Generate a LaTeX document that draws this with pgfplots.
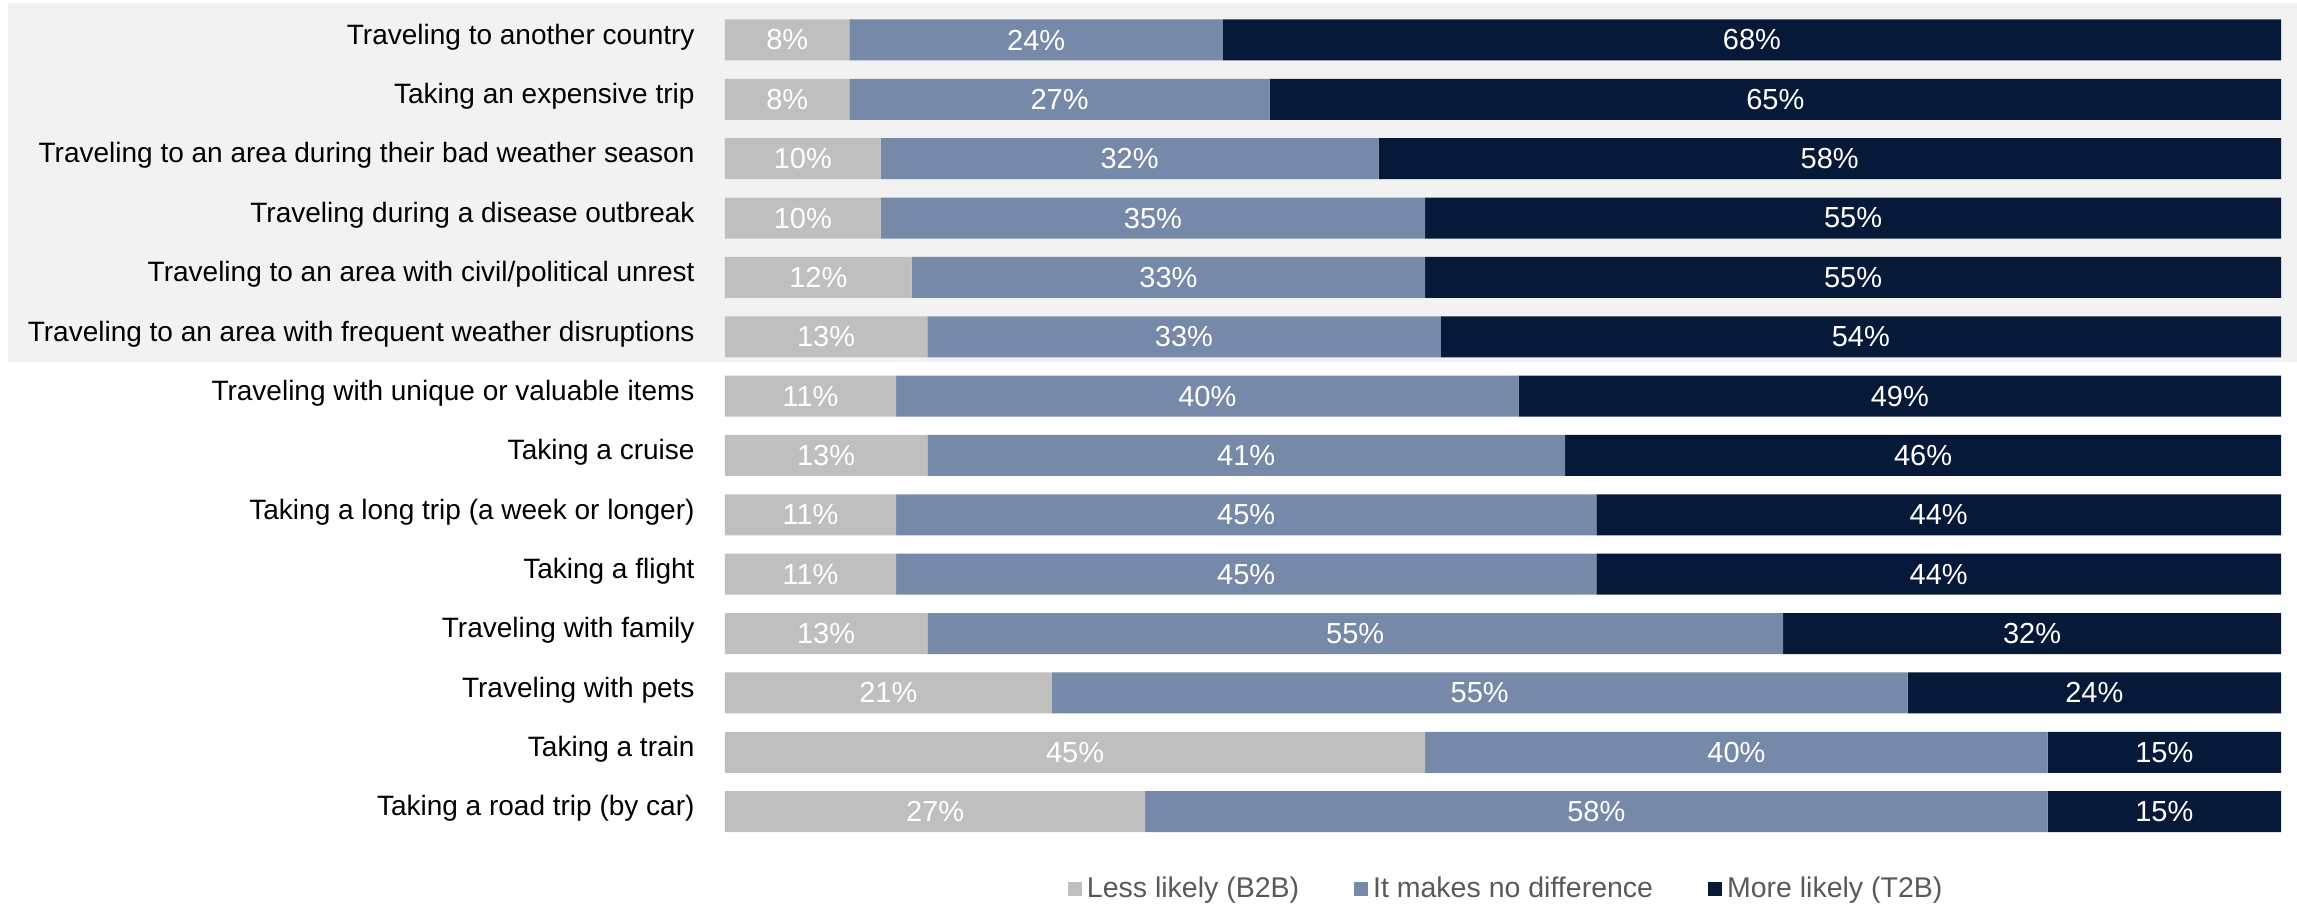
\documentclass[border=0pt]{standalone}
\usepackage{pgfplots}
\pgfplotsset{compat=1.18}
\usepackage{pgfplotstable}
\usepackage{fontspec}
\setmainfont{Liberation Sans}
\definecolor{cLess}{HTML}{BFBFBF}
\definecolor{cNo}{HTML}{7789A8}
\definecolor{cMore}{HTML}{061939}
\definecolor{cBg}{HTML}{F2F2F2}
\definecolor{cLeg}{HTML}{595959}
\pgfplotstableread{
idx less nodiff more
0 8 24 68
1 8 27 65
2 10 32 58
3 10 35 55
4 12 33 55
5 13 33 54
6 11 40 49
7 13 41 46
8 11 45 44
9 11 45 44
10 13 55 32
11 21 55 24
12 45 40 15
13 27 58 15
}\datatable
\begin{document}
\begin{tikzpicture}
\useasboundingbox (0pt,0pt) rectangle (918.8pt,-362pt);
\fill[cBg] (3.2pt,-1.2pt) rectangle (918.8pt,-144.8pt);
\begin{axis}[
  at={(290pt,-4.12pt)}, anchor=north west,
  scale only axis, width=622.4pt, height=332.4pt,
  xbar stacked, bar width=16.4pt,
  xmin=0, xmax=100, ymin=-0.5, ymax=13.5, y dir=reverse,
  enlarge y limits=false, enlarge x limits=false,
  axis line style={draw=none}, tick style={draw=none},
  xtick=\empty,
  ytick={0,...,13},
  yticklabels={{Traveling to another country},{Taking an expensive trip},{Traveling to an area during their bad weather season},{Traveling during a disease outbreak},{Traveling to an area with civil/political unrest},{Traveling to an area with frequent weather disruptions},{Traveling with unique or valuable items},{Taking a cruise},{Taking a long trip (a week or longer)},{Taking a flight},{Traveling with family},{Traveling with pets},{Taking a train},{Taking a road trip (by car)}},
  yticklabel style={font=\fontsize{11.2}{13}\selectfont, inner sep=0pt, xshift=-12pt, yshift=1.2pt, text=black},
  /pgf/number format/assume math mode=true,
  point meta=explicit,
  nodes near coords={\pgfmathprintnumber{\pgfplotspointmeta}\%},
  every node near coord/.append style={anchor=center, text=white, font=\fontsize{11.6}{13}\selectfont},
  legend columns=3,
  legend style={at={(0.503,-0.0575)}, anchor=center, draw=none, fill=none, text=cLeg, font=\fontsize{11.4}{13}\selectfont, /tikz/every even column/.append style={column sep=20pt}},
  legend image code/.code={\fill[#1] (0pt,-2.8pt) rectangle (5.6pt,2.8pt);},
]
\addplot[fill=cLess, draw=none] table[y=idx, x=less, meta=less] {\datatable};
\addplot[fill=cNo, draw=none] table[y=idx, x=nodiff, meta=nodiff] {\datatable};
\addplot[fill=cMore, draw=none] table[y=idx, x=more, meta=more] {\datatable};
\legend{Less likely (B2B), It makes no difference, More likely (T2B)}
\end{axis}
\end{tikzpicture}
\end{document}
